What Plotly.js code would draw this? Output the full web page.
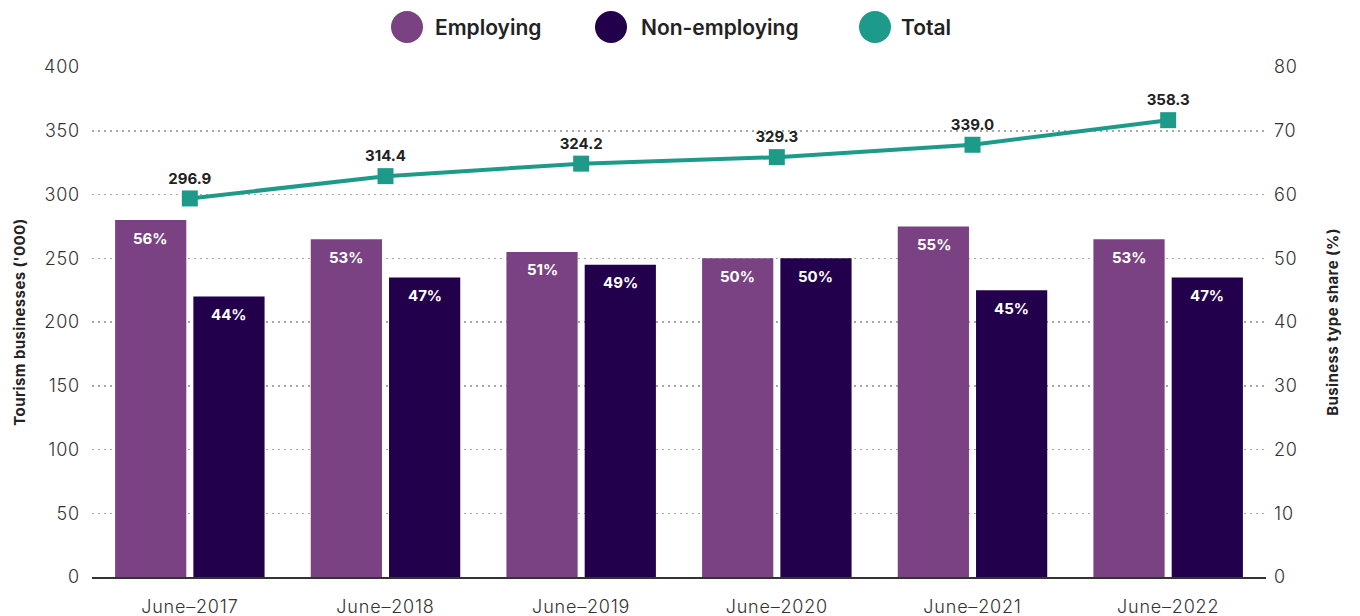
<!DOCTYPE html>
<html>
<head>
<meta charset="utf-8">
<script src="https://cdn.plot.ly/plotly-3.0.1.min.js"></script>
<style>
html,body{margin:0;padding:0;background:#fff;}
#chart{width:1360px;height:616px;}
.xtick text, .ytick text, .y2tick text{letter-spacing:0.8px;}
.ytitle, .y2title{letter-spacing:0.4px;}
</style>
</head>
<body>
<div id="chart"></div>
<script>
const categories = ["June–2017","June–2018","June–2019","June–2020","June–2021","June–2022"];
const employingShare = [56,53,51,50,55,53];
const nonEmployingShare = [44,47,49,50,45,47];
const totalBusinesses = [296.9,314.4,324.2,329.3,339.0,358.3];
const leftTicks = [0,50,100,150,200,250,300,350,400];
const rightTicks = [0,10,20,30,40,50,60,70,80];

const C_EMP = "#7a4282", C_NON = "#23004c", C_TOT = "#1e9a8a";
const FONT = "Inter, Lato, sans-serif";
const ML = 92, MR = 94, MT = 67, MB = 39, W = 1360, H = 616;
const PW = W - ML - MR;

const traces = [
  {type:"bar", name:"Employing", x:categories, y:employingShare, yaxis:"y2",
   marker:{color:C_EMP}, showlegend:false, hoverinfo:"skip"},
  {type:"bar", name:"Non-employing", x:categories, y:nonEmployingShare, yaxis:"y2",
   marker:{color:C_NON}, showlegend:false, hoverinfo:"skip"},
  {type:"scatter", mode:"lines+markers+text", name:"Total", x:categories, y:totalBusinesses, yaxis:"y",
   line:{color:C_TOT, width:4}, marker:{symbol:"square", size:16, color:C_TOT},
   text:totalBusinesses.map(v=>v.toFixed(1)), textposition:"top center",
   textfont:{family:FONT, size:15, color:"#222", weight:700}, showlegend:false, hoverinfo:"skip"}
];

const annotations = [];
categories.forEach((c,i)=>{
  annotations.push({x:c, y:employingShare[i], xref:"x", yref:"y2", xshift:-39, yshift:-18,
    text:employingShare[i]+"%", showarrow:false, font:{family:FONT,size:15,color:"#fff",weight:700}});
  annotations.push({x:c, y:nonEmployingShare[i], xref:"x", yref:"y2", xshift:39, yshift:-18,
    text:nonEmployingShare[i]+"%", showarrow:false, font:{family:FONT,size:15,color:"#fff",weight:700}});
});

// custom legend (circles + labels above the plot)
const legendItems = [
  {label:"Employing", color:C_EMP, cx:407, tx:433},
  {label:"Non-employing", color:C_NON, cx:611, tx:639},
  {label:"Total", color:C_TOT, cx:875, tx:899}
];
const LEG_Y = 27;
const shapes = [];
legendItems.forEach(it=>{
  shapes.push({type:"circle", xref:"paper", yref:"paper", xsizemode:"pixel", ysizemode:"pixel",
    xanchor:(it.cx-ML)/PW, yanchor:1, x0:-16, x1:16, y0:(MT-LEG_Y)-16, y1:(MT-LEG_Y)+16,
    fillcolor:it.color, line:{width:0}});
  annotations.push({xref:"paper", yref:"paper", x:(it.tx-ML)/PW, y:1, yshift:(MT-LEG_Y),
    xanchor:"left", yanchor:"middle", text:it.label, showarrow:false,
    font:{family:FONT, size:21, color:"#222", weight:600}});
});

const layout = {
  width:W, height:H,
  margin:{l:ML, r:MR, t:MT, b:MB},
  paper_bgcolor:"#fff", plot_bgcolor:"#fff",
  font:{family:FONT, color:"#333"},
  barmode:"group", bargap:0.2, bargroupgap:0.09,
  showlegend:false,
  xaxis:{type:"category", showgrid:false, zeroline:false, showline:true, linecolor:"#333", linewidth:2,
    ticks:"", tickfont:{family:FONT, size:18, color:"#333", weight:300}, ticklabelstandoff:12},
  yaxis:{range:[0,400], tickvals:leftTicks, showgrid:true, gridcolor:"#a8a8a8", griddash:"1.5px,4.5px", gridwidth:1.5,
    zeroline:false, showline:false, ticks:"", tickfont:{family:FONT,size:18,color:"#333",weight:300}, ticklabelstandoff:11,
    title:{text:"Tourism businesses ('000)", font:{family:FONT,size:15,color:"#222",weight:700}, standoff:14}},
  yaxis2:{range:[0,80], tickvals:rightTicks, overlaying:"y", side:"right", showgrid:false, zeroline:false,
    ticks:"", tickfont:{family:FONT,size:18,color:"#333",weight:300}, ticklabelstandoff:7,
    title:{text:"Business type share (%)", font:{family:FONT,size:15,color:"#222",weight:700}, standoff:30}},
  annotations:annotations,
  shapes:shapes
};

Plotly.newPlot("chart", traces, layout, {displayModeBar:false, staticPlot:true});
</script>
</body>
</html>
